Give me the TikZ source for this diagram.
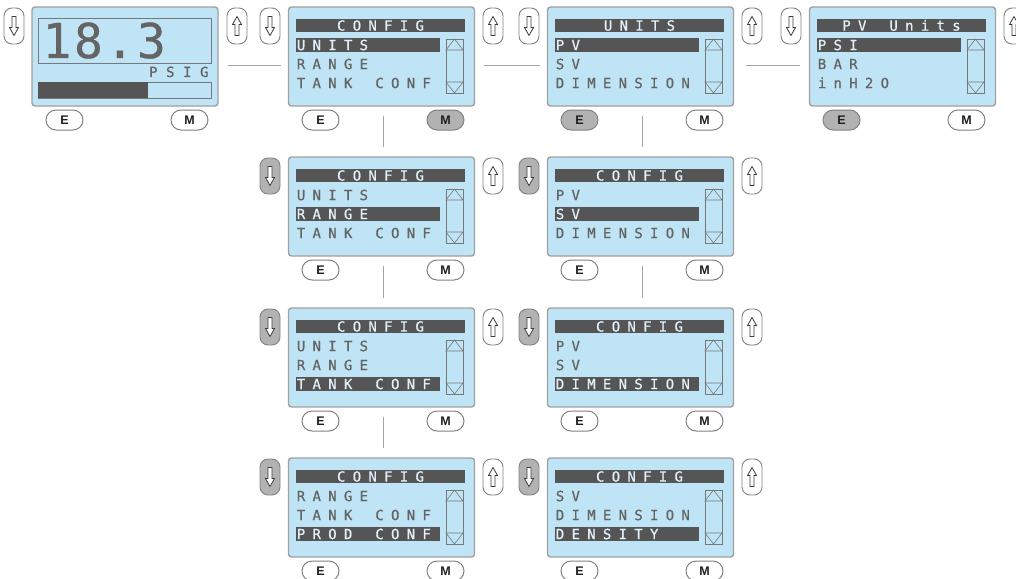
\documentclass[tikz,border=0pt]{standalone}
\usepackage{fontspec}
\newfontfamily\lcd[FakeBold=0.7]{DejaVu Sans Mono}
\newfontfamily\btnf{Liberation Sans}
\definecolor{lcdblue}{RGB}{191,228,245}
\definecolor{scrborder}{RGB}{160,160,160}
\definecolor{barcol}{RGB}{85,85,85}
\definecolor{lcdgray}{RGB}{100,100,100}
\definecolor{hltext}{RGB}{225,240,248}
\definecolor{btnborder}{RGB}{130,130,130}
\definecolor{btnactive}{RGB}{178,178,178}
\definecolor{conngray}{RGB}{165,165,165}
\definecolor{arrowgray}{RGB}{60,60,60}
\definecolor{btntext}{RGB}{30,30,30}
\definecolor{sbarcol}{RGB}{120,120,120}
\makeatletter
\newcommand\spc[2]{\@tfor\sp@ch:=#2\do{\makebox[#1]{\sp@ch}}}
\makeatother
\tikzset{
 screen/.style={draw=scrborder, line width=1.4pt, fill=lcdblue, rounded corners=3pt, minimum width=186pt, minimum height=99pt, inner sep=0pt},
 sidebtn/.style={draw=btnborder, line width=0.9pt, rounded corners=8pt, minimum width=20pt, minimum height=36pt, inner sep=0pt},
 pillbtn/.style={draw=btnborder, line width=1pt, rounded corners=10pt, minimum width=37pt, minimum height=20pt, inner sep=0pt, font=\btnf\bfseries\fontsize{12.5}{12.5}\selectfont, text=btntext},
 lcdtext/.style={inner sep=0pt, text depth=0pt, font=\lcd\fontsize{14}{14}\selectfont, text=lcdgray},
 conn/.style={draw=conngray, line width=0.9pt},
 arrowglyph/.style={draw=arrowgray, line width=0.8pt, fill=white, line join=miter},
 sbar/.style={draw=sbarcol, line width=0.6pt},
 boxline/.style={draw=sbarcol, line width=0.8pt},
}
% buttons: name, L, T, down fill, up fill, E fill, M fill
\newcommand\btns[7]{%
 \node[sidebtn, fill=#4] (#1d) at (#2-18, #3+19) {};
 \draw[arrowglyph, shift={(#1d.center)}] (-2,-9.5) -- (2,-9.5) -- (2,1.5) -- (4.5,1.5) -- (0,9.5) -- (-4.5,1.5) -- (-2,1.5) -- cycle;
 \node[sidebtn, fill=#5] (#1u) at (#2+205, #3+19) {};
 \draw[arrowglyph, shift={(#1u.center)}] (-2,9.5) -- (2,9.5) -- (2,-1.5) -- (4.5,-1.5) -- (0,-9.5) -- (-4.5,-1.5) -- (-2,-1.5) -- cycle;
 \node[pillbtn, fill=#6] (#1e) at (#2+32.5, #3+113) {E};
 \node[pillbtn, fill=#7] (#1m) at (#2+157.5, #3+113) {M};
}
\newcommand\rowtxt[4]{% name, k, text, hl
 \ifnum#2=#4 \def\rc{hltext}\else\def\rc{lcdgray}\fi
 \node[lcdtext, anchor=base west, text=\rc] (#1r#2) at (5, {24.1+19*#2}) {\spc{15.7pt}{#3}};
}
% screen: name, L, T, title, r1, r2, r3, hl
\newcommand\lcdscreen[8]{%
 \node[screen] (#1) at (#2+93.5, #3+49.5) {};
 \begin{scope}[shift={(#2,#3)}]
  \fill[barcol] (8,12) rectangle (177,25);
  \node[lcdtext, text=hltext, anchor=base] (#1t) at (92.5, 23.6) {\spc{15.7pt}{#4}};
  \fill[barcol] (8, {12+19*#8}) rectangle (152, {26+19*#8});
  \rowtxt{#1}{1}{#5}{#8}
  \rowtxt{#1}{2}{#6}{#8}
  \rowtxt{#1}{3}{#7}{#8}
  \draw[sbar] (158,32) rectangle (175,86);
  \draw[sbar] (158,43) -- (166.5,32) -- (175,43) -- cycle;
  \draw[sbar] (158,75) -- (166.5,86) -- (175,75) -- cycle;
 \end{scope}
}
\begin{document}
\begin{tikzpicture}[x=1pt, y=-1pt]
\useasboundingbox (0,0) rectangle (1016,578);
\clip (0,0) rectangle (1016,578);
\fill[white] (0,0) rectangle (1016,578);

% Panel A: measurement display
\node[screen] (A1) at (125, 56.5) {};
\draw[boxline] (38,18) rectangle (211,63);
\node[inner sep=0pt, text depth=0pt, anchor=base west, text=lcdgray, font=\lcd\fontsize{48}{48}\selectfont] (A1val) at (41,58) {\spc{31.5pt}{18.3}};
\node[lcdtext, anchor=base east] (A1unit) at (213,77) {\spc{17pt}{PSIG}};
\draw[boxline] (38,82) rectangle (211,98);
\fill[barcol] (38,82) rectangle (148,98);
\btns{A1}{32}{7}{white}{white}{white}{white}

% Row 1
\lcdscreen{B1}{288}{7}{CONFIG}{UNITS}{RANGE}{TANK~CONF}{1}
\btns{B1}{288}{7}{white}{white}{white}{btnactive}
\lcdscreen{C1}{547}{7}{UNITS}{PV}{SV}{DIMENSION}{1}
\btns{C1}{547}{7}{white}{white}{btnactive}{white}
\lcdscreen{D1}{809}{7}{PV~Units}{PSI}{BAR}{inH2O}{1}
\btns{D1}{809}{7}{white}{white}{btnactive}{white}

% Row 2
\lcdscreen{B2}{288}{157}{CONFIG}{UNITS}{RANGE}{TANK~CONF}{2}
\btns{B2}{288}{157}{btnactive}{white}{white}{white}
\lcdscreen{C2}{547}{157}{CONFIG}{PV}{SV}{DIMENSION}{2}
\btns{C2}{547}{157}{btnactive}{white}{white}{white}

% Row 3
\lcdscreen{B3}{288}{308}{CONFIG}{UNITS}{RANGE}{TANK~CONF}{3}
\btns{B3}{288}{308}{btnactive}{white}{white}{white}
\lcdscreen{C3}{547}{308}{CONFIG}{PV}{SV}{DIMENSION}{3}
\btns{C3}{547}{308}{btnactive}{white}{white}{white}

% Row 4
\lcdscreen{B4}{288}{458}{CONFIG}{RANGE}{TANK~CONF}{PROD~CONF}{3}
\btns{B4}{288}{458}{btnactive}{white}{white}{white}
\lcdscreen{C4}{547}{458}{CONFIG}{SV}{DIMENSION}{DENSITY}{3}
\btns{C4}{547}{458}{btnactive}{white}{white}{white}

% Connectors
\draw[conn, shorten <=9pt, shorten >=7pt] ([yshift=-8.5pt]A1.east) -- ([yshift=-8.5pt]B1.west);
\draw[conn, shorten <=9pt, shorten >=7pt] ([yshift=-8.5pt]B1.east) -- ([yshift=-8.5pt]C1.west);
\draw[conn, shorten <=12pt, shorten >=9pt] ([yshift=-8.5pt]C1.east) -- ([yshift=-8.5pt]D1.west);
\draw[conn, shorten <=9pt, shorten >=9pt] ([xshift=1.5pt]B1.south) -- ([xshift=1.5pt]B2.north);
\draw[conn, shorten <=9pt, shorten >=9pt] ([xshift=1.5pt]B2.south) -- ([xshift=1.5pt]B3.north);
\draw[conn, shorten <=9pt, shorten >=9pt] ([xshift=1.5pt]B3.south) -- ([xshift=1.5pt]B4.north);
\draw[conn, shorten <=9pt, shorten >=9pt] ([xshift=1.5pt]C1.south) -- ([xshift=1.5pt]C2.north);
\draw[conn, shorten <=9pt, shorten >=9pt] ([xshift=1.5pt]C2.south) -- ([xshift=1.5pt]C3.north);
\end{tikzpicture}
\end{document}
